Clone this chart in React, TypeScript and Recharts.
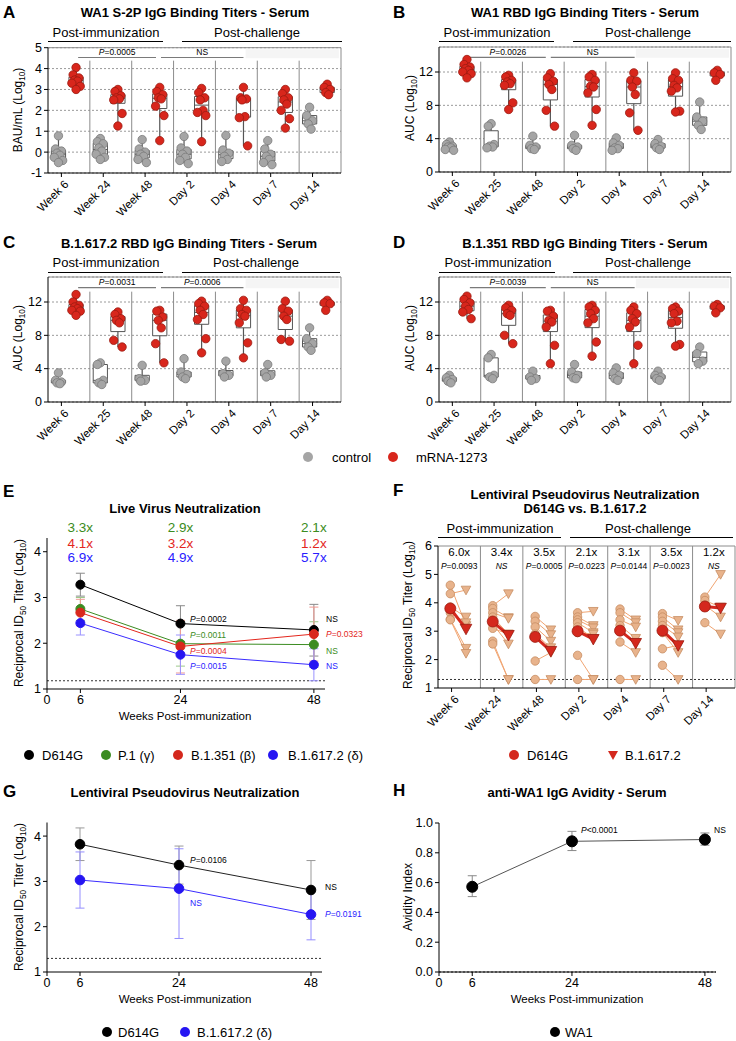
import React from 'react';
import {
  ComposedChart,
  XAxis,
  YAxis,
  CartesianGrid,
  Scatter,
  Line,
  ErrorBar,
  ReferenceLine,
  ReferenceArea,
} from 'recharts';

const FONT = '"Liberation Sans", Arial, Helvetica, sans-serif';

// ---------- A-D: binding titers (one array per time point) ----------
const timepoints = ['Week 6', 'Week 24', 'Week 48', 'Day 2', 'Day 4', 'Day 7', 'Day 14'];
const timepointsRbd = ['Week 6', 'Week 25', 'Week 48', 'Day 2', 'Day 4', 'Day 7', 'Day 14'];

const s2pControl = [
  [0.78, 0.15, 0.05, -0.05, -0.15, -0.25, -0.4, -0.5],
  [0.65, 0.5, 0.4, 0.2, 0.05, -0.1, -0.25, -0.35],
  [0.6, 0.15, 0.0, -0.1, -0.2, -0.35, -0.5],
  [0.75, 0.2, 0.05, -0.1, -0.25, -0.4, -0.55],
  [0.8, 0.1, -0.05, -0.2, -0.35, -0.45],
  [0.55, 0.15, -0.1, -0.2, -0.35, -0.5, -0.6],
  [2.15, 1.75, 1.5, 1.35, 1.1],
];
const s2pVaccine = [
  [4.05, 3.7, 3.55, 3.45, 3.4, 3.3, 3.15, 3.0],
  [3.0, 2.9, 2.7, 2.6, 2.55, 2.5, 1.85, 1.25],
  [3.1, 2.9, 2.75, 2.6, 2.55, 2.2, 1.75, 0.55],
  [3.05, 2.85, 2.6, 2.5, 2.0, 1.9, 1.75, 0.5],
  [3.1, 2.6, 2.55, 2.5, 1.7, 1.65, 0.3],
  [3.0, 2.8, 2.6, 2.5, 2.3, 2.0, 1.6, 1.15],
  [3.25, 3.1, 3.0, 2.85, 2.75],
];

const wa1RbdControl = [
  [3.6, 3.3, 3.1, 3.0, 2.9, 2.7, 2.6],
  [5.8, 5.5, 3.3, 3.1, 3.0, 2.9],
  [4.3, 3.2, 3.0, 2.8, 2.7],
  [4.4, 3.2, 3.0, 2.8, 2.6],
  [4.1, 3.5, 3.2, 2.9, 2.8, 2.6],
  [3.9, 3.4, 3.1, 2.9, 2.7],
  [8.4, 6.6, 6.1, 5.6, 5.1],
];
const wa1RbdVaccine = [
  [13.5, 12.9, 12.6, 12.4, 12.2, 12.0, 11.8, 11.3],
  [11.6, 11.4, 11.0, 10.8, 10.6, 10.4, 8.3, 7.5],
  [11.8, 11.3, 10.9, 10.5, 9.9, 7.4, 5.5],
  [11.7, 11.4, 11.0, 10.3, 10.2, 9.5, 7.5, 5.6],
  [11.9, 11.0, 10.9, 10.2, 9.3, 7.1, 5.0],
  [11.9, 11.2, 11.0, 10.4, 10.1, 9.7, 7.3, 7.2],
  [12.2, 11.9, 11.7, 11.0],
];

const deltaRbdControl = [
  [3.5, 2.6, 2.4, 2.3, 2.2],
  [4.7, 4.5, 2.6, 2.3, 2.1],
  [4.4, 2.8, 2.6, 2.5],
  [5.2, 3.6, 3.3, 3.0, 2.8],
  [4.9, 3.4, 3.2, 3.0],
  [4.5, 3.5, 3.2, 3.0],
  [8.9, 7.6, 7.0, 6.6, 6.2],
];
const deltaRbdVaccine = [
  [12.9, 12.0, 11.6, 11.4, 11.2, 11.0, 10.9, 10.4],
  [10.8, 10.5, 10.0, 9.8, 9.5, 7.4, 6.6],
  [11.0, 10.9, 10.2, 9.8, 8.9, 7.0, 4.7],
  [12.1, 11.8, 11.5, 11.0, 10.5, 9.9, 7.6, 5.9],
  [12.2, 11.2, 11.0, 10.5, 10.3, 9.5, 7.1, 5.3],
  [12.1, 11.2, 10.9, 10.3, 9.9, 7.5, 7.3],
  [12.2, 11.9, 11.8, 11.0],
];

const betaRbdControl = [
  [3.2, 2.9, 2.7, 2.5, 2.3],
  [5.7, 5.3, 3.2, 3.0, 2.8],
  [3.7, 3.0, 2.8, 2.6],
  [4.5, 3.6, 3.2, 2.9, 2.8],
  [4.1, 3.5, 3.2, 2.8, 2.6],
  [3.7, 3.2, 3.0, 2.8, 2.6],
  [6.6, 5.8, 4.9, 4.6],
];
const betaRbdVaccine = [
  [12.7, 12.3, 11.9, 11.5, 11.1, 10.8, 10.0],
  [11.6, 11.3, 11.0, 10.6, 10.4, 8.0, 7.0],
  [11.0, 10.9, 10.3, 9.8, 9.6, 9.0, 6.8, 4.6],
  [11.6, 11.4, 11.0, 10.6, 10.0, 9.5, 7.2, 5.5],
  [11.4, 11.0, 10.6, 10.0, 9.6, 9.0, 6.8, 4.6],
  [11.4, 11.2, 10.9, 10.6, 9.7, 9.5, 6.9, 6.7],
  [11.7, 11.5, 11.3, 10.7],
];

// ---------- E: live virus neutralization ----------
const neutWeeks = [6, 24, 48];
const liveD614G = [3.28, 2.43, 2.29];
const liveD614GLow = [3.03, 2.04, 1.72];
const liveD614GHigh = [3.53, 2.82, 2.85];
const liveP1 = [2.75, 1.99, 1.97];
const liveP1Low = [2.5, 1.5, 1.47];
const liveP1High = [3.0, 2.48, 2.47];
const liveBeta = [2.67, 1.93, 2.2];
const liveBetaLow = [2.38, 1.35, 1.61];
const liveBetaHigh = [2.96, 2.5, 2.79];
const liveDelta = [2.44, 1.75, 1.53];
const liveDeltaLow = [2.18, 1.32, 1.18];
const liveDeltaHigh = [2.7, 2.18, 1.88];
const liveFoldP1 = ['3.3x', '2.9x', '2.1x'];
const liveFoldBeta = ['4.1x', '3.2x', '1.2x'];
const liveFoldDelta = ['6.9x', '4.9x', '5.7x'];

// ---------- F: paired pseudovirus titers ----------
const pseudoD614G = [
  [4.62, 4.32, 3.85, 3.65, 3.42, 3.4],
  [3.9, 3.8, 3.65, 3.5, 3.25, 3.1, 2.65, 2.55],
  [3.52, 3.35, 3.15, 2.9, 1.95, 1.3],
  [3.65, 3.5, 3.4, 3.3, 3.15, 2.95, 2.15, 1.3],
  [3.78, 3.65, 3.4, 3.2, 3.0, 2.62, 1.3],
  [3.62, 3.5, 3.35, 3.2, 2.95, 2.38, 1.8],
  [4.2, 4.08, 3.92, 3.3],
];
const pseudoDelta = [
  [3.2, 4.45, 3.5, 3.3, 2.4, 2.22],
  [4.32, 3.48, 3.45, 2.9, 2.55, 2.9, 1.3, 1.3],
  [3.05, 2.88, 2.65, 2.42, 2.25, 1.3],
  [3.7, 3.2, 3.12, 2.95, 2.75, 2.9, 1.3, 1.3],
  [3.4, 3.3, 3.15, 2.75, 2.6, 2.25, 1.3],
  [3.38, 3.05, 2.95, 2.8, 2.25, 2.5, 1.3],
  [5.0, 3.85, 3.5, 2.9],
];
const pseudoD614GMean = [3.8, 3.34, 2.8, 3.0, 3.02, 3.02, 3.87];
const pseudoDeltaMean = [3.08, 2.86, 2.3, 2.72, 2.58, 2.5, 3.82];
const pseudoFold = ['6.0x', '3.4x', '3.5x', '2.1x', '3.1x', '3.5x', '1.2x'];
const pseudoP = ['P=0.0093', 'NS', 'P=0.0005', 'P=0.0223', 'P=0.0144', 'P=0.0023', 'NS'];

// ---------- G: lentiviral pseudovirus ----------
const lentiD614G = [3.82, 3.36, 2.81];
const lentiD614GLow = [3.46, 2.94, 2.16];
const lentiD614GHigh = [4.18, 3.78, 3.46];
const lentiDelta = [3.03, 2.84, 2.27];
const lentiDeltaLow = [2.41, 1.74, 1.71];
const lentiDeltaHigh = [3.65, 3.72, 2.83];

// ---------- H: avidity ----------
const avidity = [0.572, 0.877, 0.889];
const avidityLow = [0.506, 0.815, 0.851];
const avidityHigh = [0.646, 0.944, 0.933];

// ---------- helpers ----------
const CTRL = '#a5a5a5';
const CTRL_EDGE = '#7a7a7a';
const VAX = '#d8261c';
const VAX_EDGE = '#9a1a10';
const PEACH = '#e8b38c';
const PEACH_EDGE = '#c68d62';
const PAIR_LINE = '#f1a572';
const MEAN_RED = '#d4281d';
const TICK_OFF = 0.32;
const JIT = [0, -0.07, 0.07, -0.035, 0.035, -0.1, 0.1, 0];

function quantile(sorted: number[], p: number) {
  const pos = (sorted.length - 1) * p;
  const lo = Math.floor(pos);
  const hi = Math.ceil(pos);
  return sorted[lo] + (sorted[hi] - sorted[lo]) * (pos - lo);
}

const pText = (v: string) => (v.startsWith('P') ? <><i>P</i>{v.slice(1)}</> : v);

const Tx = ({ x, y, size = 12, bold = false, color = '#000', align = 'center', italic = false, children }: any) => (
  <div
    style={{
      position: 'absolute',
      left: x,
      top: y,
      transform: `translate(${align === 'center' ? '-50%' : align === 'right' ? '-100%' : '0'},-50%)`,
      fontSize: size,
      fontWeight: bold ? 700 : 400,
      fontStyle: italic ? 'italic' : 'normal',
      color,
      whiteSpace: 'nowrap',
      lineHeight: 1,
    }}
  >
    {children}
  </div>
);

const VTx = ({ x, y, size = 12, children }: any) => (
  <div
    style={{
      position: 'absolute',
      left: x,
      top: y,
      transform: 'translate(-50%,-50%) rotate(-90deg)',
      fontSize: size,
      whiteSpace: 'nowrap',
      lineHeight: 1,
    }}
  >
    {children}
  </div>
);

const Sub = ({ children }: any) => (
  <span style={{ fontSize: '0.68em', position: 'relative', top: '0.35em' }}>{children}</span>
);

const HRule = ({ x1, x2, y }: any) => (
  <div style={{ position: 'absolute', left: x1, top: y, width: x2 - x1, height: 1.3, background: '#000' }} />
);

const Dot = ({ x, y, color, r = 5 }: any) => (
  <div style={{ position: 'absolute', left: x - r, top: y - r, width: 2 * r, height: 2 * r, borderRadius: '50%', background: color }} />
);

const makeRotTick = (labels: string[]) => (props: any) => {
  const { x, y, payload } = props;
  const i = Math.round(payload.value - TICK_OFF);
  return (
    <g transform={`translate(${x + 8},${y + 6})`}>
      <text textAnchor="end" transform="rotate(-45)" fontSize={11.5} fill="#000">
        {labels[i]}
      </text>
    </g>
  );
};

const groupTicks = [0, 1, 2, 3, 4, 5, 6].map((g) => g + TICK_OFF);

// ---------- A-D panel ----------
function BoxPanel(props: any) {
  const { x0, y0, plot, domain, ticks, control, vaccine, labels, bracketY, sepTop, shade, brackets } = props;
  const W = 368;
  const yW = 30;
  const xH = 44;
  const H = plot.b - y0 + xH;
  const margin = { top: plot.t - y0, left: plot.l - x0 - yW, right: x0 + W - plot.r, bottom: 0 };
  const [dMin, dMax] = domain;
  const px = (v: number) => plot.l - x0 + (v / 7) * (plot.r - plot.l);
  const py = (v: number) => plot.t - y0 + ((dMax - v) / (dMax - dMin)) * (plot.b - plot.t);
  const OC = 0.25;
  const OV = 0.67;
  const BW = 0.17;

  const points = (vals: number[][], off: number) =>
    vals.flatMap((arr, g) => arr.map((v, i) => ({ x: g + off + JIT[i % JIT.length], y: v })));

  const boxes = (vals: number[][], off: number, key: string) =>
    vals.map((arr, g) => {
      const s = [...arr].sort((a, b) => a - b);
      const q1 = quantile(s, 0.25);
      const med = quantile(s, 0.5);
      const q3 = quantile(s, 0.75);
      const cx = g + off;
      return (
        <React.Fragment key={key + g}>
          <ReferenceLine segment={[{ x: cx, y: s[0] }, { x: cx, y: q1 }]} stroke="#555" strokeWidth={1.2} />
          <ReferenceLine segment={[{ x: cx, y: q3 }, { x: cx, y: s[s.length - 1] }]} stroke="#555" strokeWidth={1.2} />
          <ReferenceArea x1={cx - BW} x2={cx + BW} y1={q1} y2={q3} fill="#fff" fillOpacity={1} stroke="#555" strokeWidth={1} />
          <ReferenceLine segment={[{ x: cx - BW, y: med }, { x: cx + BW, y: med }]} stroke="#555" strokeWidth={1} />
        </React.Fragment>
      );
    });

  return (
    <div style={{ position: 'absolute', left: x0, top: y0, width: W, height: H }}>
      <ComposedChart width={W} height={H} margin={margin} style={{ overflow: 'visible' }}>
        <CartesianGrid horizontal vertical={false} stroke="#9a9a9a" strokeDasharray="2 2" />
        <XAxis
          type="number"
          dataKey="x"
          domain={[0, 7]}
          ticks={groupTicks}
          interval={0}
          allowDataOverflow
          height={xH}
          tickSize={4}
          stroke="#000"
          tick={makeRotTick(labels)}
        />
        <YAxis
          type="number"
          dataKey="y"
          domain={domain}
          ticks={ticks}
          interval={0}
          allowDataOverflow
          width={yW}
          tickSize={4}
          stroke="#000"
          tick={{ fontSize: 12.5, fill: '#000' }}
        />
        <ReferenceArea x1={4.72} x2={6.95} y1={shade[0]} y2={shade[1]} fill="#f5f5f5" fillOpacity={1} stroke="none" />
        <ReferenceLine y={dMax} stroke="#8c8c8c" />
        <ReferenceLine x={7} stroke="#8c8c8c" />
        {[1, 2, 3, 4, 5, 6].map((g) => (
          <ReferenceLine key={'s' + g} segment={[{ x: g, y: dMin }, { x: g, y: sepTop }]} stroke="#8c8c8c" />
        ))}
        {brackets.map((b: any, k: number) => (
          <ReferenceLine key={'b' + k} segment={[{ x: b.from, y: bracketY }, { x: b.to, y: bracketY }]} stroke="#7a7a7a" strokeWidth={1.2} />
        ))}
        {boxes(control, OC, 'c')}
        {boxes(vaccine, OV, 'v')}
        <Scatter
          data={points(control, OC)}
          dataKey="y"
          isAnimationActive={false}
          shape={(p: any) => <circle cx={p.cx} cy={p.cy} r={4.2} fill={CTRL} stroke={CTRL_EDGE} strokeWidth={0.8} />}
        />
        <Scatter
          data={points(vaccine, OV)}
          dataKey="y"
          isAnimationActive={false}
          shape={(p: any) => <circle cx={p.cx} cy={p.cy} r={4.2} fill={VAX} stroke={VAX_EDGE} strokeWidth={0.8} />}
        />
      </ComposedChart>
      {brackets.map((b: any, k: number) => (
        <Tx key={k} x={px((b.from + b.to) / 2)} y={py(bracketY) - 5.5} size={8.5}>
          {pText(b.label)}
        </Tx>
      ))}
    </div>
  );
}

// ---------- E, G, H panels ----------
function MeanPanel(props: any) {
  const { x0, y0, plot, domain, ticks, fmt, series, lod } = props;
  const W = 368;
  const yW = 34;
  const xH = 22;
  const H = plot.b - y0 + xH;
  const margin = { top: plot.t - y0, left: plot.l - x0 - yW, right: x0 + W - plot.r, bottom: 0 };
  return (
    <div style={{ position: 'absolute', left: x0, top: y0 }}>
      <ComposedChart width={W} height={H} margin={margin} style={{ overflow: 'visible' }}>
        <XAxis
          type="number"
          dataKey="x"
          domain={[0, 50]}
          ticks={[0, 6, 24, 48]}
          interval={0}
          allowDataOverflow
          height={xH}
          tickSize={4}
          stroke="#000"
          tick={{ fontSize: 12.5, fill: '#000' }}
        />
        <YAxis
          type="number"
          dataKey="y"
          domain={domain}
          ticks={ticks}
          interval={0}
          allowDataOverflow
          width={yW}
          tickSize={4}
          stroke="#000"
          tickFormatter={fmt}
          tick={{ fontSize: 12.5, fill: '#000' }}
        />
        <ReferenceLine y={lod} stroke="#333" strokeDasharray="2 2" />
        {series.map((s: any, k: number) => (
          <Line
            key={k}
            data={neutWeeks.map((w, i) => ({ x: w, y: s.mean[i], err: [s.mean[i] - s.low[i], s.high[i] - s.mean[i]] }))}
            dataKey="y"
            stroke={s.line}
            strokeWidth={1}
            dot={{ r: s.r, fill: s.color, stroke: s.color, strokeWidth: 1 }}
            activeDot={false}
            isAnimationActive={false}
          >
            <ErrorBar dataKey="err" direction="y" width={4.5} stroke={s.err} strokeWidth={1} />
          </Line>
        ))}
      </ComposedChart>
    </div>
  );
}

// ---------- F panel ----------
function PseudoPanel() {
  const x0 = 368;
  const y0 = 540;
  const W = 368;
  const plot = { l: 438, t: 546, r: 735, b: 688 };
  const yW = 30;
  const xH = 44;
  const H = plot.b - y0 + xH;
  const margin = { top: plot.t - y0, left: plot.l - x0 - yW, right: x0 + W - plot.r, bottom: 0 };
  const OD = 0.29;
  const OB = 0.66;
  const pairLines = pseudoD614G.flatMap((arr, g) =>
    arr.flatMap((v, i) => [
      { x: g + OD, y: v },
      { x: g + OB, y: pseudoDelta[g][i] },
      { x: g + 0.5, y: null },
    ])
  );
  const dPts = pseudoD614G.flatMap((arr, g) => arr.map((v) => ({ x: g + OD, y: v })));
  const bPts = pseudoDelta.flatMap((arr, g) => arr.map((v) => ({ x: g + OB, y: v })));
  const tri = (cx: number, cy: number, s: number) => `M${cx - s},${cy - s * 0.8} L${cx + s},${cy - s * 0.8} L${cx},${cy + s} Z`;
  const gw = (plot.r - plot.l) / 7;
  return (
    <div style={{ position: 'absolute', left: x0, top: y0, width: W, height: H }}>
      <ComposedChart width={W} height={H} margin={margin} style={{ overflow: 'visible' }}>
        <XAxis
          type="number"
          dataKey="x"
          domain={[0, 7]}
          ticks={groupTicks}
          interval={0}
          allowDataOverflow
          height={xH}
          tickSize={4}
          stroke="#000"
          tick={makeRotTick(timepoints)}
        />
        <YAxis
          type="number"
          dataKey="y"
          domain={[1, 6]}
          ticks={[1, 2, 3, 4, 5, 6]}
          interval={0}
          allowDataOverflow
          width={yW}
          tickSize={4}
          stroke="#000"
          tick={{ fontSize: 12.5, fill: '#000' }}
        />
        <ReferenceLine y={6} stroke="#8c8c8c" />
        <ReferenceLine x={7} stroke="#8c8c8c" />
        {[1, 2, 3, 4, 5, 6].map((g) => (
          <ReferenceLine key={'s' + g} x={g} stroke="#8c8c8c" />
        ))}
        <ReferenceLine y={1.3} stroke="#333" strokeDasharray="2 2" />
        <Line data={pairLines} dataKey="y" stroke={PAIR_LINE} strokeWidth={1} dot={false} activeDot={false} isAnimationActive={false} />
        <Scatter
          data={dPts}
          dataKey="y"
          isAnimationActive={false}
          shape={(p: any) => <circle cx={p.cx} cy={p.cy} r={4.2} fill={PEACH} stroke={PEACH_EDGE} strokeWidth={0.8} />}
        />
        <Scatter
          data={bPts}
          dataKey="y"
          isAnimationActive={false}
          shape={(p: any) => <path d={tri(p.cx, p.cy, 4.8)} fill={PEACH} stroke={PEACH_EDGE} strokeWidth={0.8} />}
        />
        {pseudoD614GMean.map((v, g) => (
          <Scatter
            key={'m' + g}
            data={[
              { x: g + OD, y: v, kind: 'c' },
              { x: g + OB, y: pseudoDeltaMean[g], kind: 't' },
            ]}
            dataKey="y"
            line={{ stroke: MEAN_RED, strokeWidth: 3 }}
            isAnimationActive={false}
            shape={(p: any) =>
              p.payload && p.payload.kind === 't' ? (
                <path d={tri(p.cx, p.cy, 5.8)} fill={MEAN_RED} stroke="#9a1a10" strokeWidth={0.8} />
              ) : (
                <circle cx={p.cx} cy={p.cy} r={5.5} fill={MEAN_RED} stroke="#9a1a10" strokeWidth={0.8} />
              )
            }
          />
        ))}
      </ComposedChart>
      {pseudoFold.map((f, g) => (
        <React.Fragment key={g}>
          <Tx x={plot.l - x0 + gw * (g + 0.5)} y={553 - y0} size={11.5}>
            {f}
          </Tx>
          <Tx x={plot.l - x0 + gw * (g + 0.5)} y={566 - y0} size={8.5} italic={pseudoP[g] === 'NS'}>
            {pText(pseudoP[g])}
          </Tx>
        </React.Fragment>
      ))}
    </div>
  );
}

const bracketsNS = [
  { from: 0.72, to: 2.58, label: 'P=0.0005' },
  { from: 2.7, to: 4.67, label: 'NS' },
];

export default function App() {
  const yLabelAuc = (
    <>
      AUC (Log<Sub>10</Sub>)
    </>
  );
  const yLabelId50 = (
    <>
      Reciprocal ID<Sub>50</Sub> Titer (Log<Sub>10</Sub>)
    </>
  );
  return (
    <div
      style={{
        position: 'absolute',
        left: 0,
        top: 0,
        width: 736,
        height: 1041,
        background: '#fff',
        fontFamily: FONT,
        color: '#000',
        overflow: 'hidden',
      }}
    >
      {/* ---------- A ---------- */}
      <Tx x={3} y={12} size={17} bold align="left">A</Tx>
      <Tx x={195} y={12} size={13} bold>WA1 S-2P IgG Binding Titers - Serum</Tx>
      <Tx x={106} y={32} size={13}>Post-immunization</Tx>
      <HRule x1={48} x2={163} y={41} />
      <Tx x={257} y={32} size={13}>Post-challenge</Tx>
      <HRule x1={182} x2={342} y={41} />
      <VTx x={18} y={110} size={12}>BAU/mL (Log<Sub>10</Sub>)</VTx>
      <BoxPanel
        x0={0}
        y0={40}
        plot={{ l: 48, t: 47.7, r: 341, b: 173 }}
        domain={[-1, 5]}
        ticks={[-1, 0, 1, 2, 3, 4, 5]}
        control={s2pControl}
        vaccine={s2pVaccine}
        labels={timepoints}
        bracketY={4.53}
        sepTop={4.38}
        shade={[4.5, 4.93]}
        brackets={bracketsNS}
      />

      {/* ---------- B ---------- */}
      <Tx x={393} y={12} size={17} bold align="left">B</Tx>
      <Tx x={585} y={12} size={13} bold>WA1 RBD IgG Binding Titers - Serum</Tx>
      <Tx x={497} y={32} size={13}>Post-immunization</Tx>
      <HRule x1={439} x2={554} y={41} />
      <Tx x={648} y={32} size={13}>Post-challenge</Tx>
      <HRule x1={573} x2={731} y={41} />
      <VTx x={410} y={108} size={12}>{yLabelAuc}</VTx>
      <BoxPanel
        x0={368}
        y0={40}
        plot={{ l: 439, t: 47, r: 731, b: 172 }}
        domain={[0, 15]}
        ticks={[0, 4, 8, 12]}
        control={wa1RbdControl}
        vaccine={wa1RbdVaccine}
        labels={timepointsRbd}
        bracketY={13.76}
        sepTop={13.24}
        shade={[13.7, 14.8]}
        brackets={[
          { from: 0.74, to: 2.56, label: 'P=0.0026' },
          { from: 2.68, to: 4.69, label: 'NS' },
        ]}
      />

      {/* ---------- C ---------- */}
      <Tx x={3} y={242} size={17} bold align="left">C</Tx>
      <Tx x={189} y={243} size={13} bold>B.1.617.2 RBD IgG Binding Titers - Serum</Tx>
      <Tx x={106} y={262} size={13}>Post-immunization</Tx>
      <HRule x1={48} x2={163} y={272} />
      <Tx x={256} y={262} size={13}>Post-challenge</Tx>
      <HRule x1={182} x2={340} y={272} />
      <VTx x={18} y={338} size={12}>{yLabelAuc}</VTx>
      <BoxPanel
        x0={0}
        y0={270}
        plot={{ l: 48, t: 277, r: 341, b: 402 }}
        domain={[0, 15]}
        ticks={[0, 4, 8, 12]}
        control={deltaRbdControl}
        vaccine={deltaRbdVaccine}
        labels={timepointsRbd}
        bracketY={13.72}
        sepTop={13.24}
        shade={[13.65, 14.8]}
        brackets={[
          { from: 0.72, to: 2.58, label: 'P=0.0031' },
          { from: 2.7, to: 4.67, label: 'P=0.0006' },
        ]}
      />

      {/* ---------- D ---------- */}
      <Tx x={393} y={242} size={17} bold align="left">D</Tx>
      <Tx x={585} y={243} size={13} bold>B.1.351 RBD IgG Binding Titers - Serum</Tx>
      <Tx x={498} y={262} size={13}>Post-immunization</Tx>
      <HRule x1={439} x2={555} y={272} />
      <Tx x={648} y={262} size={13}>Post-challenge</Tx>
      <HRule x1={573} x2={731} y={272} />
      <VTx x={410} y={338} size={12}>{yLabelAuc}</VTx>
      <BoxPanel
        x0={368}
        y0={270}
        plot={{ l: 439, t: 277, r: 731, b: 402 }}
        domain={[0, 15]}
        ticks={[0, 4, 8, 12]}
        control={betaRbdControl}
        vaccine={betaRbdVaccine}
        labels={timepointsRbd}
        bracketY={13.72}
        sepTop={13.24}
        shade={[13.65, 14.8]}
        brackets={[
          { from: 0.74, to: 2.56, label: 'P=0.0039' },
          { from: 2.68, to: 4.69, label: 'NS' },
        ]}
      />

      {/* legend A-D */}
      <Dot x={308} y={457} color={CTRL} />
      <Tx x={332} y={457} size={13} align="left">control</Tx>
      <Dot x={393} y={457} color={VAX} />
      <Tx x={416} y={457} size={13} align="left">mRNA-1273</Tx>

      {/* ---------- E ---------- */}
      <Tx x={3} y={491} size={17} bold align="left">E</Tx>
      <Tx x={185} y={508} size={13} bold>Live Virus Neutralization</Tx>
      {neutWeeks.map((w, i) => {
        const cx = 47 + (w / 50) * 278;
        return (
          <React.Fragment key={w}>
            <Tx x={cx} y={528} size={13.5} color="#3b8c21">{liveFoldP1[i]}</Tx>
            <Tx x={cx} y={544} size={13.5} color="#e3261c">{liveFoldBeta[i]}</Tx>
            <Tx x={cx} y={558} size={13.5} color="#2a1cff">{liveFoldDelta[i]}</Tx>
          </React.Fragment>
        );
      })}
      <VTx x={19} y={613} size={12}>{yLabelId50}</VTx>
      <MeanPanel
        x0={0}
        y0={530}
        plot={{ l: 47, t: 538, r: 325, b: 689 }}
        domain={[1, 4.3]}
        ticks={[1, 2, 3, 4]}
        lod={1.18}
        series={[
          { mean: liveD614G, low: liveD614GLow, high: liveD614GHigh, color: '#000', line: '#000', err: '#8a8a8a', r: 4.5 },
          { mean: liveP1, low: liveP1Low, high: liveP1High, color: '#3b8c21', line: '#3b8c21', err: '#9cc98a', r: 4.5 },
          { mean: liveBeta, low: liveBetaLow, high: liveBetaHigh, color: '#d9281d', line: '#e3261c', err: '#f19a93', r: 4.5 },
          { mean: liveDelta, low: liveDeltaLow, high: liveDeltaHigh, color: '#2515f2', line: '#3a2cff', err: '#9a92ff', r: 4.5 },
        ]}
      />
      <Tx x={190} y={619} size={8.5} align="left">{pText('P=0.0002')}</Tx>
      <Tx x={190} y={635} size={8.5} align="left" color="#3b8c21">{pText('P=0.0011')}</Tx>
      <Tx x={190} y={651} size={8.5} align="left" color="#e3261c">{pText('P=0.0004')}</Tx>
      <Tx x={190} y={666} size={8.5} align="left" color="#2a1cff">{pText('P=0.0015')}</Tx>
      <Tx x={326} y={619} size={8.5} align="left">NS</Tx>
      <Tx x={326} y={634} size={8.5} align="left" color="#e3261c">{pText('P=0.0323')}</Tx>
      <Tx x={326} y={651} size={8.5} align="left" color="#3b8c21">NS</Tx>
      <Tx x={326} y={666} size={8.5} align="left" color="#2a1cff">NS</Tx>
      <Tx x={185} y={717} size={11.5}>Weeks Post-immunization</Tx>
      <Dot x={29} y={755} color="#000" />
      <Tx x={42} y={755} size={13} align="left">D614G</Tx>
      <Dot x={106} y={755} color="#3b8c21" />
      <Tx x={118} y={755} size={13} align="left">P.1 (γ)</Tx>
      <Dot x={178} y={755} color="#d4281d" />
      <Tx x={191} y={755} size={13} align="left">B.1.351 (β)</Tx>
      <Dot x={273} y={755} color="#2515f2" />
      <Tx x={288} y={755} size={13} align="left">B.1.617.2 (δ)</Tx>

      {/* ---------- F ---------- */}
      <Tx x={393} y={490} size={17} bold align="left">F</Tx>
      <Tx x={585} y={494} size={13} bold>Lentiviral Pseudovirus Neutralization</Tx>
      <Tx x={585} y={508} size={13} bold>D614G vs. B.1.617.2</Tx>
      <Tx x={500} y={528} size={13}>Post-immunization</Tx>
      <HRule x1={438} x2={561} y={537} />
      <Tx x={648} y={528} size={13}>Post-challenge</Tx>
      <HRule x1={570} x2={733} y={537} />
      <VTx x={408} y={615} size={12}>{yLabelId50}</VTx>
      <PseudoPanel />
      <Dot x={514} y={755} color={MEAN_RED} />
      <Tx x={527} y={755} size={13} align="left">D614G</Tx>
      <svg style={{ position: 'absolute', left: 607, top: 750 }} width={12} height={12}>
        <path d="M1,1 L11,1 L6,10 Z" fill={MEAN_RED} />
      </svg>
      <Tx x={625} y={755} size={13} align="left">B.1.617.2</Tx>

      {/* ---------- G ---------- */}
      <Tx x={3} y={791} size={17} bold align="left">G</Tx>
      <Tx x={185} y={792} size={13} bold>Lentiviral Pseudovirus Neutralization</Tx>
      <VTx x={19} y={897} size={12}>{yLabelId50}</VTx>
      <MeanPanel
        x0={0}
        y0={815}
        plot={{ l: 47, t: 822.5, r: 322, b: 972 }}
        domain={[1, 4.3]}
        ticks={[1, 2, 3, 4]}
        lod={1.3}
        series={[
          { mean: lentiD614G, low: lentiD614GLow, high: lentiD614GHigh, color: '#000', line: '#222', err: '#999', r: 4.8 },
          { mean: lentiDelta, low: lentiDeltaLow, high: lentiDeltaHigh, color: '#2515f2', line: '#3a2cff', err: '#948dff', r: 4.8 },
        ]}
      />
      <Tx x={190} y={860} size={8.5} align="left">{pText('P=0.0106')}</Tx>
      <Tx x={190} y={903} size={8.5} align="left" color="#2a1cff">NS</Tx>
      <Tx x={325} y={887} size={8.5} align="left">NS</Tx>
      <Tx x={325} y={914} size={8.5} align="left" color="#2a1cff">{pText('P=0.0191')}</Tx>
      <Tx x={185} y={1000} size={11.5}>Weeks Post-immunization</Tx>
      <Dot x={107} y={1032} color="#000" />
      <Tx x={118} y={1032} size={13} align="left">D614G</Tx>
      <Dot x={185} y={1032} color="#2515f2" />
      <Tx x={197} y={1032} size={13} align="left">B.1.617.2 (δ)</Tx>

      {/* ---------- H ---------- */}
      <Tx x={393} y={790} size={17} bold align="left">H</Tx>
      <Tx x={577} y={792} size={13} bold>anti-WA1 IgG Avidity - Serum</Tx>
      <VTx x={408} y={897} size={12}>Avidity Index</VTx>
      <MeanPanel
        x0={368}
        y0={815}
        plot={{ l: 439, t: 823, r: 716, b: 972 }}
        domain={[0, 1]}
        ticks={[0, 0.2, 0.4, 0.6, 0.8, 1]}
        fmt={(v: number) => v.toFixed(1)}
        lod={0}
        series={[{ mean: avidity, low: avidityLow, high: avidityHigh, color: '#000', line: '#555', err: '#888', r: 5.5 }]}
      />
      <Tx x={581} y={830} size={8.5} align="left">{pText('P<0.0001')}</Tx>
      <Tx x={714} y={830} size={8.5} align="left">NS</Tx>
      <Tx x={577} y={1000} size={11.5}>Weeks Post-immunization</Tx>
      <Dot x={555} y={1032} color="#000" />
      <Tx x={565} y={1032} size={13} align="left">WA1</Tx>
    </div>
  );
}
